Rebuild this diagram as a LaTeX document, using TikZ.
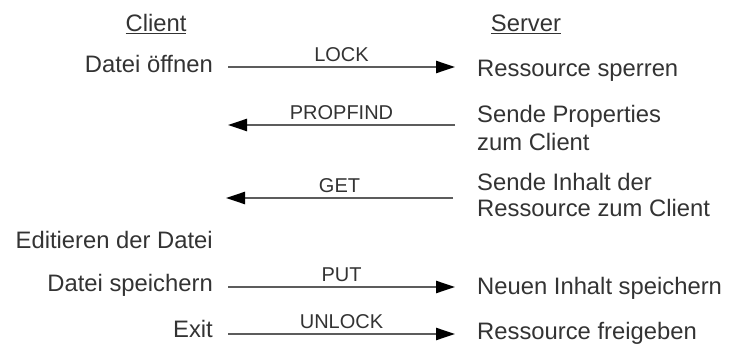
\documentclass[tikz,border=0pt]{standalone}
\usepackage{fontspec}
\setmainfont{Liberation Sans}
\usetikzlibrary{arrows.meta}
\definecolor{txt}{HTML}{333333}
\definecolor{wire}{HTML}{5C5C5C}
\begin{document}
\begin{tikzpicture}[x=1pt,y=-1pt,
  lbl/.style={font=\fontsize{23.8}{28}\selectfont, text=txt, inner sep=0pt},
  head/.style={lbl, anchor=base},
  client/.style={lbl, anchor=base east},
  server/.style={lbl, anchor=base west},
  msg/.style={draw=wire, line width=2.4pt, -{Triangle[length=19pt,width=12pt,color=black]}},
  verb/.style={font=\fontsize{20}{24}\selectfont, text=txt, inner sep=0pt,
    anchor=base, yshift=5.5pt, pos=0.5}]
\useasboundingbox (0,0) rectangle (729,345);

% column headings
\node[head] (hc) at (156,32) {\underline{Client}};
\node[head] (hs) at (526,32) {\underline{Server}};

% client side actions
\node[client] (c1) at (213,73)  {Datei öffnen};
\node[client] (c4) at (213,248) {Editieren der Datei};
\node[client] (c5) at (213,291) {Datei speichern};
\node[client] (c6) at (213,337) {Exit};

% server side actions
\node[server] (s1)  at (477,77)  {Ressource sperren};
\node[server] (s2a) at (477,122) {Sende Properties};
\node[server] (s2b) at (477,150) {zum Client};
\node[server] (s3a) at (477,190) {Sende Inhalt der};
\node[server] (s3b) at (477,216) {Ressource zum Client};
\node[server] (s5)  at (477,294) {Neuen Inhalt speichern};
\node[server] (s6)  at (477,339) {Ressource freigeben};

% message end points
\coordinate (l1) at (228,67);  \coordinate (r1) at (455,67);
\coordinate (l2) at (228,125); \coordinate (r2) at (455,125);
\coordinate (l3) at (226,198); \coordinate (r3) at (453,198);
\coordinate (l5) at (228,287); \coordinate (r5) at (455,287);
\coordinate (l6) at (228,334); \coordinate (r6) at (455,334);

% WebDAV requests and responses
\draw[msg] (l1) -- node[verb] {LOCK} (r1);
\draw[msg] (r2) -- node[verb] {PROPFIND} (l2);
\draw[msg] (r3) -- node[verb] {GET} (l3);
\draw[msg] (l5) -- node[verb] {PUT} (r5);
\draw[msg] (l6) -- node[verb] {UNLOCK} (r6);
\end{tikzpicture}
\end{document}
